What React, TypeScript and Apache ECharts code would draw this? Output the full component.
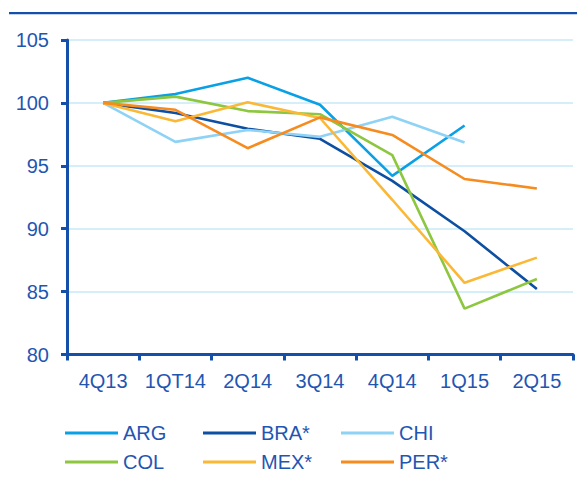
import React, { useEffect, useRef } from "react";
import * as echarts from "echarts";

const categories = ["4Q13", "1QT14", "2Q14", "3Q14", "4Q14", "1Q15", "2Q15"];
const seriesNames = ["ARG", "BRA*", "CHI", "COL", "MEX*", "PER*"];
const ARG = [100, 100.7, 102.0, 99.85, 94.2, 98.2, null];
const BRA = [100, 99.2, 97.95, 97.15, 93.8, 89.8, 85.2];
const CHI = [100, 96.9, 97.85, 97.3, 98.9, 96.85, null];
const COL = [100, 100.5, 99.35, 99.1, 95.85, 83.65, 86.0];
const MEX = [100, 98.55, 100.05, 98.8, 92.3, 85.7, 87.7];
const PER = [100, 99.45, 96.4, 98.85, 97.45, 93.95, 93.2];
const seriesData = [ARG, BRA, CHI, COL, MEX, PER];
const colors = ["#0aa0e6", "#0d4fa3", "#8ed2f5", "#8dc63f", "#fbb836", "#f68b1f"];

const TEXT = "#1f56b2";
const AXIS = "#1450aa";
const FONT = "Liberation Sans, Arial, sans-serif";

export default function App() {
  const ref = useRef<HTMLDivElement>(null);
  useEffect(() => {
    if (!ref.current) return;
    const chart = echarts.init(ref.current, undefined, { renderer: "svg" });
    const legendPos = [
      [65, 423], [203, 423], [341, 423],
      [65, 452], [203, 452], [341, 452],
    ];
    chart.setOption({
      animation: false,
      color: colors,
      textStyle: { fontFamily: FONT },
      grid: { left: 67, right: 4, top: 40, bottom: 123.5, containLabel: false },
      graphic: [
        { type: "rect", shape: { x: 9, y: 12, width: 568, height: 2.2 }, style: { fill: AXIS } },
      ],
      legend: seriesNames.map((n, i) => ({
        data: [n],
        left: legendPos[i][0],
        top: legendPos[i][1],
        icon: "rect",
        itemWidth: 53,
        itemHeight: 3,
        padding: 0,
        textStyle: { fontSize: 20, color: TEXT, fontFamily: FONT },
      })),
      xAxis: {
        type: "category",
        data: categories,
        boundaryGap: true,
        axisLine: { lineStyle: { color: AXIS, width: 3 } },
        axisTick: { show: true, interval: 0, length: 6, lineStyle: { color: AXIS, width: 3 } },
        axisLabel: { interval: 0, fontSize: 20, color: TEXT, margin: 16, fontFamily: FONT },
        splitLine: { show: false },
      },
      yAxis: {
        type: "value",
        min: 80,
        max: 105,
        interval: 5,
        axisLine: { show: true, lineStyle: { color: AXIS, width: 3 } },
        axisTick: { show: true, length: 6, lineStyle: { color: AXIS, width: 3 } },
        axisLabel: { fontSize: 20, color: TEXT, margin: 18, fontFamily: FONT },
        splitLine: { show: true, lineStyle: { color: "#c6eaf8", width: 1.5 } },
      },
      series: seriesNames.map((n, i) => ({
        name: n,
        type: "line",
        data: seriesData[i],
        showSymbol: false,
        symbol: "none",
        lineStyle: { width: 2.6, color: colors[i] },
        itemStyle: { color: colors[i] },
        connectNulls: false,
      })),
    });
    return () => chart.dispose();
  }, []);
  return (
    <div
      ref={ref}
      style={{ position: "fixed", left: 0, top: 0, width: 577, height: 478, background: "#fff" }}
    />
  );
}
